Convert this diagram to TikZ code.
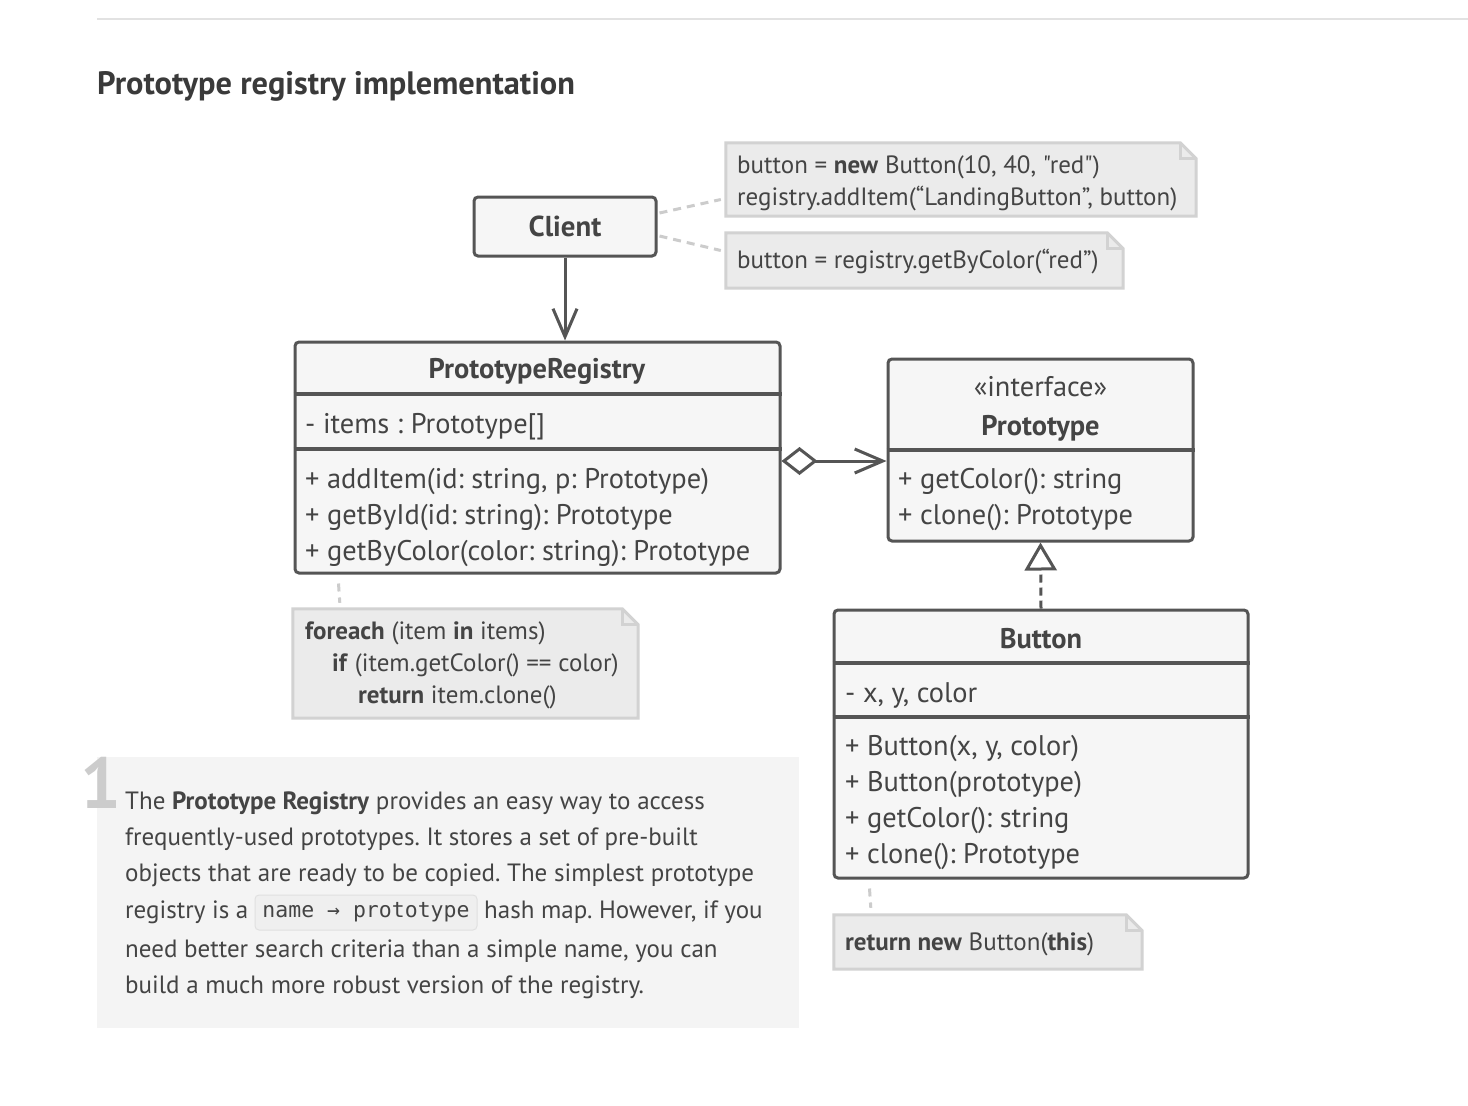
\documentclass[tikz,border=0pt]{standalone}
\usepackage{fontspec}
\setmainfont{PT Sans}[Ligatures=TeXOff]
\newfontfamily\monof{DejaVu Sans Mono}
\usetikzlibrary{arrows.meta}
\frenchspacing
\definecolor{ink}{HTML}{444444}
\definecolor{titleink}{HTML}{3A3A3A}
\definecolor{edge}{HTML}{555555}
\definecolor{boxfill}{HTML}{F6F6F6}
\definecolor{notefill}{HTML}{EBEBEB}
\definecolor{noteedge}{HTML}{D2D2D2}
\definecolor{dotc}{HTML}{CCCCCC}
\definecolor{parafill}{HTML}{F4F4F4}
\definecolor{rulec}{HTML}{E2E2E2}
\definecolor{numc}{HTML}{CCCCCC}
\definecolor{chipfill}{HTML}{EFEFEF}
\definecolor{chipedge}{HTML}{E0E0E0}
\tikzset{
  cls/.style={draw=edge, fill=boxfill, line width=3pt, rounded corners=4pt, inner sep=0pt},
  sepline/.style={draw=edge, line width=3.5pt},
  txt/.style={text=ink, inner sep=0pt, font=\fontsize{28.4}{32}\selectfont, anchor=base west},
  btxt/.style={txt, font=\bfseries\fontsize{28.4}{32}\selectfont, anchor=base},
  ntxt/.style={text=ink, inner sep=0pt, font=\fontsize{25}{28}\selectfont, anchor=base west},
  ptxt/.style={text=ink, inner sep=0pt, font=\fontsize{25}{28}\selectfont, anchor=base west},
  notearea/.style={inner sep=0pt},
  noteline/.style={draw=noteedge, fill=notefill, line width=3pt, line join=miter},
  foldline/.style={draw=noteedge, line width=3pt},
  dotline/.style={draw=dotc, line width=3pt, dash pattern=on 8pt off 6pt},
  assoc/.style={draw=edge, line width=3pt, -{Straight Barb[length=28pt, width=24pt, line width=3pt]}},
  aggr/.style={draw=edge, line width=3pt, {Diamond[open, fill=white, length=36pt, width=28pt, line width=3pt]}-{Straight Barb[length=28pt, width=24pt, line width=3pt]}},
  realize/.style={draw=edge, line width=3pt, dash pattern=on 8pt off 5pt, -{Triangle[open, fill=white, length=28pt, width=32pt, line width=3pt]}},
}
\newcommand\drawnote[1]{%
  \path[noteline] (#1.north west) -- ([xshift=-16pt]#1.north east) -- ([yshift=-16pt]#1.north east) -- (#1.south east) -- (#1.south west) -- cycle;
  \path[foldline] ([xshift=-16pt]#1.north east) -- ([xshift=-16pt,yshift=-16pt]#1.north east) -- ([yshift=-16pt]#1.north east);
}
\begin{document}
\begin{tikzpicture}[x=1pt, y=-1pt]
\useasboundingbox[fill=white] (0,0) rectangle (1468,1106);

% top rule and title
\coordinate (ruleA) at (97,19);
\coordinate (ruleB) at (1468,19);
\draw[rulec, line width=1.5pt] (ruleA) -- (ruleB);
\node[anchor=base west, inner sep=0pt, text=titleink, font=\bfseries\fontsize{32.4}{36}\selectfont] (title) at (97,94) {Prototype registry implementation};

% Client
\node[cls, minimum width=182pt, minimum height=59pt] (client) at (565,226.5) {};
\node[btxt, font=\bfseries\fontsize{28.8}{32}\selectfont] (clientT) at (565,236) {Client};

% PrototypeRegistry
\node[cls, minimum width=485pt, minimum height=231pt] (reg) at (537.5,457.5) {};
\draw[sepline] (reg.west |- 0,394) -- (reg.east |- 0,394);
\draw[sepline] (reg.west |- 0,449) -- (reg.east |- 0,449);
\node[btxt] (regT) at (537,378) {PrototypeRegistry};
\node[txt] (regA) at (305,433) {- items : Prototype[]};
\node[txt] (regM1) at (305,488) {+ addItem(id: string, p: Prototype)};
\node[txt] (regM2) at (305,524) {+ getById(id: string): Prototype};
\node[txt] (regM3) at (305,560) {+ getByColor(color: string): Prototype};

% Prototype interface
\node[cls, minimum width=305pt, minimum height=182pt] (proto) at (1040.5,450) {};
\draw[sepline] (proto.west |- 0,450) -- (proto.east |- 0,450);
\node[txt, anchor=base] (protoS) at (1040.5,396) {«interface»};
\node[btxt] (protoT) at (1040.5,435) {Prototype};
\node[txt] (protoM1) at (898,488) {+ getColor(): string};
\node[txt] (protoM2) at (898,524) {+ clone(): Prototype};

% Button
\node[cls, minimum width=414pt, minimum height=268pt] (button) at (1041,744) {};
\draw[sepline] (button.west |- 0,663) -- (button.east |- 0,663);
\draw[sepline] (button.west |- 0,717) -- (button.east |- 0,717);
\node[btxt] (buttonT) at (1041,648) {Button};
\node[txt] (buttonA) at (845,702) {- x, y, color};
\node[txt] (buttonM1) at (845,755) {+ Button(x, y, color)};
\node[txt] (buttonM2) at (845,791) {+ Button(prototype)};
\node[txt] (buttonM3) at (845,827) {+ getColor(): string};
\node[txt] (buttonM4) at (845,863) {+ clone(): Prototype};

% notes
\node[notearea, minimum width=470pt, minimum height=73pt] (n1) at (961,179.5) {};
\drawnote{n1}
\node[ntxt] (n1a) at (737,173) {button = \textbf{new} Button(10, 40, "red")};
\node[ntxt] (n1b) at (737,205) {registry.addItem(“LandingButton”, button)};

\node[notearea, minimum width=397pt, minimum height=55pt] (n2) at (924.5,260.5) {};
\drawnote{n2}
\node[ntxt] (n2a) at (737,268) {button = registry.getByColor(“red”)};

\node[notearea, minimum width=345pt, minimum height=109pt] (n3) at (465.5,663.5) {};
\drawnote{n3}
\node[ntxt] (n3a) at (305,639) {\textbf{foreach} (item \textbf{in} items)};
\node[ntxt] (n3b) at (332,671) {\textbf{if} (item.getColor() == color)};
\node[ntxt] (n3c) at (358,703) {\textbf{return} item.clone()};

\node[notearea, minimum width=308pt, minimum height=54pt] (n4) at (988,942) {};
\drawnote{n4}
\node[ntxt] (n4a) at (845,950) {\textbf{return new} Button(\textbf{this})};

% connectors
\draw[assoc] (client.south) -- (client.south |- reg.north);
\coordinate (ag) at ([yshift=-3.5pt]reg.east);
\draw[aggr] (ag) -- (ag -| proto.west);
\draw[realize] (button.north) -- (proto.south);

\draw[dotline] ([xshift=2pt,yshift=13.5pt]client.east) -- ([xshift=-5pt,yshift=-20pt]n1.west);
\draw[dotline] ([xshift=2pt,yshift=-9.5pt]client.east) -- ([xshift=-5pt,yshift=10pt]n2.west);
\draw[dotline] ([xshift=45pt,yshift=-9pt]reg.south west) -- ([xshift=47pt,yshift=6pt]n3.north west);
\draw[dotline] ([xshift=37pt,yshift=-9pt]button.south west) -- ([xshift=37pt,yshift=7pt]n4.north west);

% explanation block
\node[fill=parafill, inner sep=0pt, minimum width=702pt, minimum height=271pt] (para) at (448,892.5) {};
\node[anchor=base west, inner sep=0pt, text=numc, font=\bfseries\fontsize{72}{72}\selectfont] (num) at (80,808) {1};
\node[ptxt] (p1) at (125,809) {The \textbf{Prototype Registry} provides an easy way to access};
\node[ptxt] (p2) at (125,845) {frequently-used prototypes. It stores a set of pre-built};
\node[ptxt] (p3) at (125,881) {objects that are ready to be copied. The simplest prototype};
\node[ptxt] (p4) at (125,918) {registry is a};
\node[fill=chipfill, draw=chipedge, line width=1pt, rounded corners=4pt, inner sep=0pt, minimum width=222pt, minimum height=35pt, text=ink, font=\monof\fontsize{21.5}{24}\selectfont] (chip) at (366,912.5) {name → prototype};
\node[ptxt] (p4b) at (484,918) {hash map. However, if you};
\node[ptxt] (p5) at (125,957) {need better search criteria than a simple name, you can};
\node[ptxt] (p6) at (125,993) {build a much more robust version of the registry.};
\end{tikzpicture}
\end{document}
